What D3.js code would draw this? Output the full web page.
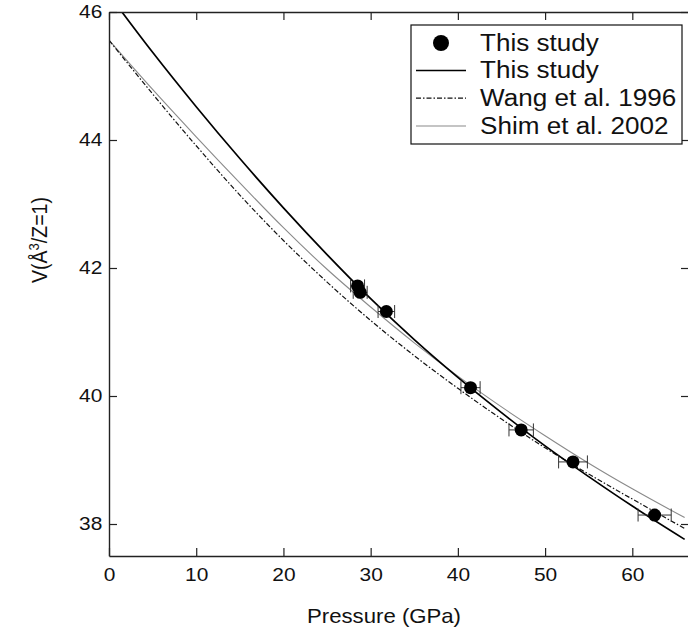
<!DOCTYPE html>
<html>
<head>
<meta charset="utf-8">
<style>
  body { margin: 0; background: #fff; }
  svg { display: block; font-family: "Liberation Sans", Arial, Helvetica, sans-serif; }
  .axis .domain { stroke: #222; stroke-width: 1.4; }
  .axis .tick line { stroke: #222; stroke-width: 1.2; }
  .axis .tick text { font-size: 18.7px; fill: #111; }
</style>
</head>
<body>
<svg width="688" height="631"></svg>
<script src="https://cdn.jsdelivr.net/npm/d3@7"></script>
<script>
// pressure grid (GPa) the curves were read at
const pressure = [0, 5, 10, 15, 20, 25, 30, 35, 40, 45, 50, 55, 60, 66];
// volumes (A^3/Z=1)
const thisStudyFit = [46.27, 45.37, 44.52, 43.71, 42.94, 42.21, 41.52, 40.88, 40.29, 39.74, 39.22, 38.74, 38.28, 37.76];
const wang1996 = [45.56, 44.72, 43.91, 43.14, 42.43, 41.78, 41.18, 40.63, 40.12, 39.64, 39.19, 38.78, 38.39, 37.93];
const shim2002 = [45.56, 44.79, 44.05, 43.33, 42.63, 41.98, 41.39, 40.83, 40.31, 39.83, 39.38, 38.95, 38.55, 38.10];

// measured points
const obsP = [28.5, 28.8, 31.8, 41.45, 47.26, 53.2, 62.56];
const obsV = [41.72, 41.62, 41.32, 40.13, 39.47, 38.97, 38.14];
const obsErr = [0.8, 0.8, 0.95, 1.1, 1.4, 1.65, 1.9];

const xTicks = [0, 10, 20, 30, 40, 50, 60];
const yTicks = [38, 40, 42, 44, 46];
const legendLabels = ["This study", "This study", "Wang et al. 1996", "Shim et al. 2002"];

let svg = d3.select("svg");
let stretch = "scale(1.12,1)";   // text in the original is a little wide

let x = d3.scaleLinear().domain([0, 66.5]).range([109, 689]);
let y = d3.scaleLinear().domain([37.5, 46]).range([556, 12]);

svg.append("clipPath").attr("id", "plot")
  .append("rect")
  .attr("x", x(0)).attr("y", y(46))
  .attr("width", x(66.5) - x(0)).attr("height", y(37.5) - y(46));

let line = d3.line()
  .x(d => x(d[0]))
  .y(d => y(d[1]))
  .curve(d3.curveMonotoneX);

let curves = [
  { vals: shim2002, stroke: "#8a8a8a", width: 1.1, dash: null },
  { vals: wang1996, stroke: "#111", width: 1.2, dash: "5,2,1.5,2" },
  { vals: thisStudyFit, stroke: "#000", width: 1.7, dash: null }
];

svg.append("g").attr("clip-path", "url(#plot)")
  .selectAll("path")
  .data(curves)
  .join("path")
  .attr("d", c => line(pressure.map((p, i) => [p, c.vals[i]])))
  .attr("fill", "none")
  .attr("stroke", c => c.stroke)
  .attr("stroke-width", c => c.width)
  .attr("stroke-dasharray", c => c.dash);

// error bars
let pts = obsP.map((p, i) => ({ p: p, v: obsV[i], e: obsErr[i] }));
let err = svg.append("g").attr("stroke", "#333").attr("stroke-width", 1);
err.selectAll(".bar").data(pts).join("line")
  .attr("x1", d => x(d.p - d.e)).attr("x2", d => x(d.p + d.e))
  .attr("y1", d => y(d.v)).attr("y2", d => y(d.v));
err.selectAll(".capl").data(pts).join("line")
  .attr("x1", d => x(d.p - d.e)).attr("x2", d => x(d.p - d.e))
  .attr("y1", d => y(d.v) - 6.5).attr("y2", d => y(d.v) + 6.5);
err.selectAll(".capr").data(pts).join("line")
  .attr("x1", d => x(d.p + d.e)).attr("x2", d => x(d.p + d.e))
  .attr("y1", d => y(d.v) - 6.5).attr("y2", d => y(d.v) + 6.5);

svg.append("g").selectAll("circle").data(pts).join("circle")
  .attr("cx", d => x(d.p)).attr("cy", d => y(d.v))
  .attr("r", 6.5).attr("fill", "#000");

// axes, ticks pointing inward on all four sides
svg.append("g").attr("class", "axis")
  .attr("transform", `translate(0,${y(37.5)})`)
  .call(d3.axisBottom(x).tickValues(xTicks).tickSizeInner(-8).tickSizeOuter(0).tickPadding(12))
  .selectAll("text").attr("transform", stretch);

svg.append("g").attr("class", "axis")
  .attr("transform", `translate(${x(0)},0)`)
  .call(d3.axisLeft(y).tickValues(yTicks).tickSizeInner(-8).tickSizeOuter(0).tickPadding(6))
  .selectAll("text").attr("transform", stretch);

svg.append("g").attr("class", "axis")
  .attr("transform", `translate(0,${y(46)})`)
  .call(d3.axisTop(x).tickValues(xTicks).tickSizeInner(-8).tickSizeOuter(0).tickFormat(""));

svg.append("g").attr("class", "axis")
  .attr("transform", `translate(${x(66.5)},0)`)
  .call(d3.axisRight(y).tickValues(yTicks).tickSizeInner(-8).tickSizeOuter(0).tickFormat(""));

// axis titles
svg.append("text")
  .attr("transform", `translate(384,623) ${stretch}`)
  .attr("text-anchor", "middle")
  .attr("font-size", "19.8px")
  .attr("fill", "#111")
  .text("Pressure (GPa)");

let ylab = svg.append("text")
  .attr("transform", `translate(47,240) ${stretch} rotate(-90)`)
  .attr("text-anchor", "middle")
  .attr("font-size", "19.5px")
  .attr("fill", "#111");
ylab.append("tspan").text("V(Å");
ylab.append("tspan").attr("dy", "-0.55em").attr("font-size", "13px").text("3");
ylab.append("tspan").attr("dy", "0.37em").text("/Z=1)");

// legend
let lg = svg.append("g");
lg.append("rect")
  .attr("x", 411).attr("y", 25).attr("width", 271).attr("height", 119)
  .attr("fill", "#fff").attr("stroke", "#111").attr("stroke-width", 1.2);

let rowY = [43, 70.5, 98.2, 126];
lg.append("circle").attr("cx", 441).attr("cy", rowY[0]).attr("r", 8).attr("fill", "#000");

let samples = [curves[2], curves[1], curves[0]];
lg.selectAll(".sample").data(samples).join("line")
  .attr("x1", 416).attr("x2", 466)
  .attr("y1", (c, i) => rowY[i + 1]).attr("y2", (c, i) => rowY[i + 1])
  .attr("stroke", c => c.stroke)
  .attr("stroke-width", c => Math.min(c.width, 1.3))
  .attr("stroke-dasharray", c => c.dash);

lg.selectAll(".lab").data(legendLabels).join("text")
  .attr("transform", (d, i) => `translate(480,${rowY[i] + 7.5}) ${stretch}`)
  .attr("font-size", "23.3px")
  .attr("fill", "#111")
  .text(d => d);
</script>
</body>
</html>
